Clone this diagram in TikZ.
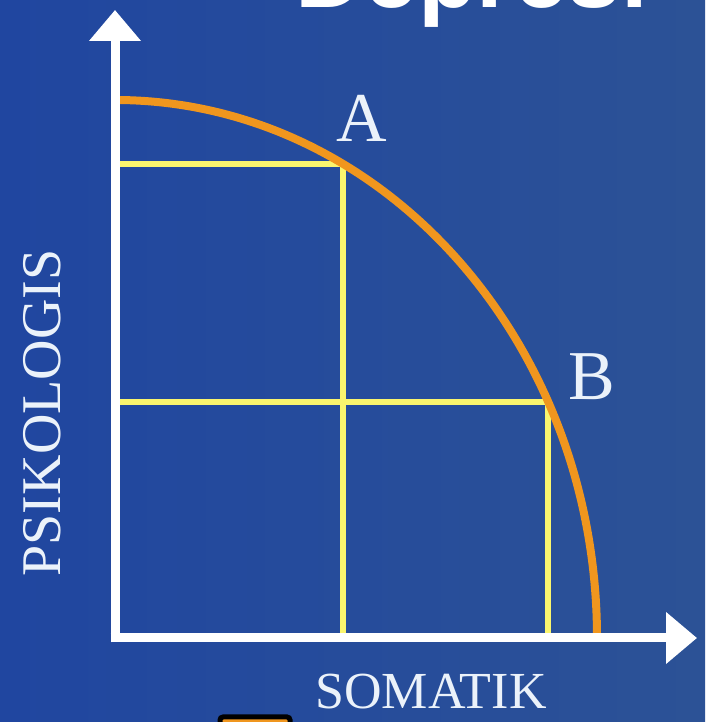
\documentclass[tikz,border=0pt]{standalone}
\usepackage{fontspec}
\setmainfont{Liberation Serif}
\newfontfamily\titlefont{Liberation Sans}
\usetikzlibrary{arrows.meta,calc}
\definecolor{bgleft}{RGB}{32,70,160}
\definecolor{bgright}{RGB}{44,82,150}
\definecolor{curveorange}{RGB}{240,150,30}
\definecolor{lineyellow}{RGB}{250,245,110}
\definecolor{labelwhite}{RGB}{235,242,250}
\tikzset{
  axisline/.style={
    draw=white,
    line width=9pt,
    -{Triangle[width=50pt,length=31pt]}
  },
  frontier/.style={
    draw=curveorange,
    line width=8pt
  },
  gridline/.style={
    draw=lineyellow,
    line width=6pt
  },
  pointlabel/.style={
    text=labelwhite,
    inner sep=0pt,
    font=\fontsize{70}{70}\selectfont
  },
  axislabel/.style={
    text=labelwhite,
    inner sep=0pt,
    font=\fontsize{52}{52}\selectfont
  }
}

\begin{document}
\begin{tikzpicture}[x=1pt,y=1pt]
    \clip (0,0) rectangle (705,722);
    \shade[left color=bgleft, right color=bgright] (0,0) rectangle (705,722);
    % title, cut off at the top
    \node[anchor=base east, inner sep=0pt, text=white,
          font=\titlefont\bfseries\fontsize{96}{96}\selectfont] (title) at (648,714) {Depresi};
    % axes
    \coordinate (O) at (115,84);
    \coordinate (ytop) at (115,712);
    \coordinate (xend) at (697,84);
    % points on the curve
    \coordinate (A) at (343,558);
    \coordinate (B) at (548,320);
    \foreach \p in {A,B}{
        \draw[gridline] (O |- \p) -- (\p) -- (\p |- O);
    }
    \draw[frontier] (115,622) arc[start angle=90, end angle=0, x radius=482, y radius=538];
    \draw[axisline] ($(O)+(0,-4.5)$) -- (ytop);
    \draw[axisline] ($(O)+(-4.5,0)$) -- (xend);
    \node[pointlabel] (labA) at (362,604) {A};
    \node[pointlabel] (labB) at (592,345) {B};
    \node[axislabel, font=\fontsize{56}{56}\selectfont, rotate=90] (ylab) at (42,309) {PSIKOLOGIS};
    \node[axislabel] (xlab) at (431,30) {SOMATIK};
    % piece of an icon at the bottom edge
    \draw[draw=black, line width=5pt, fill=curveorange, rounded corners=3pt] (220,-10) rectangle (290,5);
\end{tikzpicture}
\end{document}
